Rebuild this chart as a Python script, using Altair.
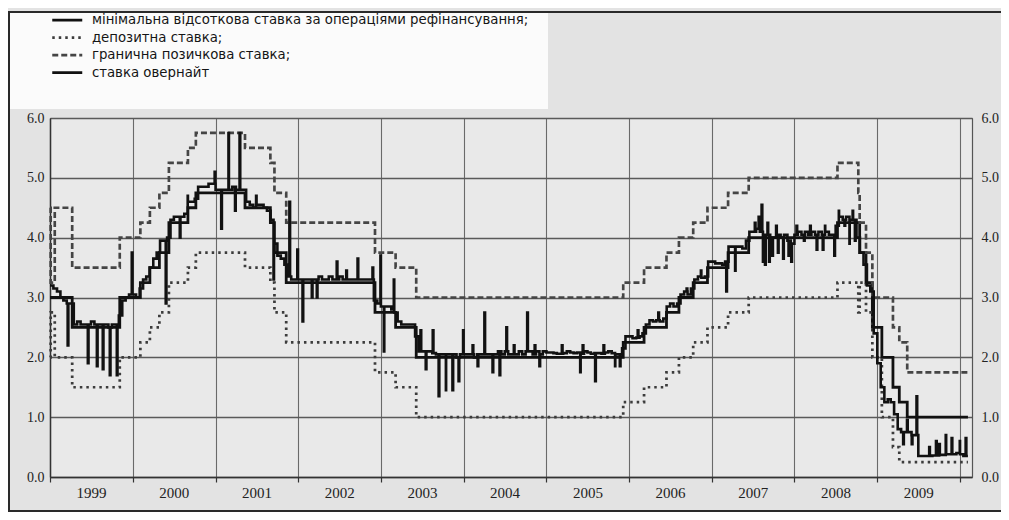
import altair as alt
import pandas as pd

LBL_MRO = "мінімальна відсоткова ставка за операціями рефінансування;"
LBL_DEP = "депозитна ставка;"
LBL_MLF = "гранична позичкова ставка;"
LBL_ON = "ставка овернайт"
SERIES = [LBL_MRO, LBL_DEP, LBL_MLF, LBL_ON]

# Main refinancing rate (step changes)
mro_dates = ["1999-01-01", "1999-04-09", "1999-11-05", "2000-02-04", "2000-03-17", "2000-04-28",
             "2000-06-09", "2000-09-01", "2000-10-06", "2001-05-11", "2001-08-31", "2001-09-18",
             "2001-11-09", "2002-12-06", "2003-03-07", "2003-06-06", "2005-12-06", "2006-03-08",
             "2006-06-15", "2006-08-09", "2006-10-11", "2006-12-13", "2007-03-14", "2007-06-13",
             "2008-07-09", "2008-10-15", "2008-11-12", "2008-12-10", "2009-01-21", "2009-03-11",
             "2009-04-08", "2009-05-13", "2010-02-05"]
mro_values = [3.00, 2.50, 3.00, 3.25, 3.50, 3.75, 4.25, 4.50, 4.75, 4.50, 4.25, 3.75,
              3.25, 2.75, 2.50, 2.00, 2.25, 2.50, 2.75, 3.00, 3.25, 3.50, 3.75, 4.00,
              4.25, 3.75, 3.25, 2.50, 2.00, 1.50, 1.25, 1.00, 1.00]

# Deposit facility rate
dep_dates = ["1999-01-01", "1999-01-04", "1999-01-22", "1999-04-09", "1999-11-05", "2000-02-04",
             "2000-03-17", "2000-04-28", "2000-06-09", "2000-09-01", "2000-10-06", "2001-05-11",
             "2001-08-31", "2001-09-18", "2001-11-09", "2002-12-06", "2003-03-07", "2003-06-06",
             "2005-12-06", "2006-03-08", "2006-06-15", "2006-08-09", "2006-10-11", "2006-12-13",
             "2007-03-14", "2007-06-13", "2008-07-09", "2008-10-09", "2008-10-15", "2008-11-12",
             "2008-12-10", "2009-01-21", "2009-03-11", "2009-04-08", "2010-02-05"]
dep_values = [2.00, 2.75, 2.00, 1.50, 2.00, 2.25, 2.50, 2.75, 3.25, 3.50, 3.75, 3.50,
              3.25, 2.75, 2.25, 1.75, 1.50, 1.00, 1.25, 1.50, 1.75, 2.00, 2.25, 2.50,
              2.75, 3.00, 3.25, 2.75, 3.25, 2.75, 2.00, 1.00, 0.50, 0.25, 0.25]

# Marginal lending facility rate
mlf_dates = ["1999-01-01", "1999-01-04", "1999-01-22", "1999-04-09", "1999-11-05", "2000-02-04",
             "2000-03-17", "2000-04-28", "2000-06-09", "2000-09-01", "2000-10-06", "2001-05-11",
             "2001-08-31", "2001-09-18", "2001-11-09", "2002-12-06", "2003-03-07", "2003-06-06",
             "2005-12-06", "2006-03-08", "2006-06-15", "2006-08-09", "2006-10-11", "2006-12-13",
             "2007-03-14", "2007-06-13", "2008-07-09", "2008-10-09", "2008-10-15", "2008-11-12",
             "2008-12-10", "2009-03-11", "2009-04-08", "2009-05-13", "2010-02-05"]
mlf_values = [4.50, 3.25, 4.50, 3.50, 4.00, 4.25, 4.50, 4.75, 5.25, 5.50, 5.75, 5.50,
              5.25, 4.75, 4.25, 3.75, 3.50, 3.00, 3.25, 3.50, 3.75, 4.00, 4.25, 4.50,
              4.75, 5.00, 5.25, 4.75, 4.25, 3.75, 3.00, 2.50, 2.25, 1.75, 1.75]

# Overnight rate: usual level read on the 1st and 16th of each month ...
on_1999 = [3.20, 3.15, 3.10, 3.00, 2.95, 2.90, 2.90, 2.55, 2.60, 2.55, 2.55, 2.55,
           2.60, 2.55, 2.55, 2.55, 2.55, 2.50, 2.55, 2.55, 2.70, 2.95, 3.00, 3.05]
on_2000 = [3.05, 3.00, 3.15, 3.30, 3.35, 3.50, 3.65, 3.75, 3.95, 3.95, 4.00, 4.30,
           4.35, 4.35, 4.35, 4.40, 4.60, 4.60, 4.65, 4.85, 4.85, 4.85, 4.90, 4.90]
on_2001 = [4.80, 4.80, 4.80, 4.80, 4.80, 4.85, 4.80, 4.80, 4.80, 4.60, 4.55, 4.50,
           4.55, 4.55, 4.50, 4.45, 4.30, 3.90, 3.70, 3.65, 3.55, 3.35, 3.30, 3.30]
on_2002 = [3.30, 3.30, 3.30, 3.30, 3.30, 3.30, 3.35, 3.30, 3.30, 3.35, 3.30, 3.30,
           3.35, 3.30, 3.30, 3.30, 3.30, 3.30, 3.30, 3.30, 3.30, 3.30, 2.95, 2.90]
on_2003 = [2.85, 2.85, 2.85, 2.80, 2.75, 2.60, 2.55, 2.55, 2.55, 2.55, 2.35, 2.10,
           2.10, 2.10, 2.10, 2.07, 2.05, 2.05, 2.05, 2.05, 2.05, 2.05, 2.00, 2.05]
on_2004 = [2.05, 2.05, 2.05, 2.00, 2.05, 2.05, 2.05, 2.05, 2.05, 2.05, 2.10, 2.05,
           2.10, 2.05, 2.05, 2.05, 2.10, 2.05, 2.10, 2.10, 2.05, 2.10, 2.05, 2.10]
on_2005 = [2.08, 2.08, 2.07, 2.06, 2.06, 2.07, 2.10, 2.08, 2.07, 2.08, 2.06, 2.10,
           2.08, 2.06, 2.07, 2.07, 2.06, 2.08, 2.10, 2.07, 2.05, 2.05, 2.15, 2.35]
on_2006 = [2.35, 2.32, 2.33, 2.35, 2.40, 2.55, 2.62, 2.60, 2.62, 2.60, 2.65, 2.85,
           2.90, 2.85, 2.90, 3.05, 3.10, 3.05, 3.15, 3.30, 3.35, 3.33, 3.35, 3.60]
on_2007 = [3.60, 3.57, 3.57, 3.55, 3.60, 3.85, 3.85, 3.85, 3.85, 3.82, 3.95, 4.10,
           4.10, 4.15, 4.10, 4.05, 4.05, 4.00, 4.00, 4.05, 4.00, 4.05, 3.95, 3.90]
on_2008 = [4.05, 4.10, 4.05, 4.10, 4.05, 4.10, 4.05, 4.10, 4.05, 4.10, 4.05, 4.05,
           4.20, 4.35, 4.30, 4.35, 4.30, 4.30, 4.00, 3.75, 3.55, 3.20, 3.10, 2.40]
on_2009 = [1.90, 1.50, 1.25, 1.30, 1.25, 1.05, 0.80, 0.75, 0.75, 0.75, 0.70, 0.70,
           0.35, 0.35, 0.35, 0.35, 0.36, 0.36, 0.37, 0.37, 0.38, 0.38, 0.38, 0.40]
on_2010_dates = ["2010-01-01", "2010-01-16", "2010-02-05"]
on_2010 = [0.38, 0.35, 0.35]

# ... and its one-day spikes (date, level)
spike_dates = ["1999-03-20", "1999-06-17", "1999-07-27", "1999-08-22", "1999-09-22", "1999-10-23",
               "1999-12-28",
               "2000-05-26", "2000-07-27", "2000-08-31", "2000-12-28",
               "2001-01-26", "2001-02-27", "2001-03-28", "2001-04-17", "2001-06-29", "2001-09-14",
               "2001-11-23", "2001-12-28",
               "2002-01-20", "2002-03-02", "2002-03-24", "2002-06-20", "2002-08-01", "2002-09-20",
               "2002-11-25", "2002-12-30",
               "2003-01-14", "2003-02-27", "2003-06-25", "2003-07-18", "2003-08-18", "2003-09-13",
               "2003-10-15", "2003-11-13", "2003-12-10", "2003-12-30",
               "2004-02-10", "2004-03-03", "2004-04-02", "2004-05-08", "2004-06-08", "2004-07-08",
               "2004-08-10", "2004-10-08", "2004-11-10", "2004-12-01",
               "2005-03-10", "2005-05-30", "2005-06-10", "2005-08-04", "2005-09-10", "2005-10-31",
               "2005-11-21",
               "2006-02-08", "2006-05-10", "2006-09-12", "2006-11-14",
               "2007-03-06", "2007-04-14", "2007-07-10", "2007-07-27", "2007-08-09", "2007-08-15",
               "2007-08-24", "2007-09-04", "2007-09-11", "2007-09-25", "2007-10-12", "2007-10-20",
               "2007-11-12", "2007-12-06", "2007-12-18",
               "2008-01-10", "2008-02-12", "2008-03-10", "2008-04-08", "2008-05-05", "2008-05-15",
               "2008-06-25", "2008-07-15", "2008-08-09", "2008-08-31", "2008-09-14", "2008-09-24",
               "2009-04-25", "2009-05-12", "2009-06-02", "2009-06-23", "2009-08-18", "2009-09-17",
               "2009-10-01", "2009-10-30", "2009-11-25", "2009-12-31", "2010-01-26"]
spike_values = [2.20, 1.90, 1.85, 1.80, 1.70, 1.70,
                3.75,
                2.90, 4.00, 4.70, 5.10,
                4.15, 5.75, 4.45, 5.75, 4.70, 3.30,
                4.60, 3.80,
                2.60, 3.00, 3.00, 3.60, 3.45, 3.65,
                3.50, 3.70,
                2.10, 3.30, 2.45, 1.80, 2.45, 1.35,
                1.45, 1.45, 1.60, 2.45,
                2.20, 1.85, 2.75, 1.75, 1.70, 2.50,
                2.20, 2.75, 2.20, 1.85,
                2.20, 1.75, 2.20, 1.60, 2.20, 1.85,
                1.85,
                2.45, 2.75, 3.15, 3.45,
                3.10, 3.45, 4.25, 4.35, 4.55, 3.60,
                3.55, 4.25, 3.60, 3.70, 4.20, 3.75,
                3.65, 3.70, 3.60,
                4.20, 3.95, 4.20, 3.80, 3.80, 4.20,
                3.70, 4.45, 4.20, 3.90, 4.45, 3.95,
                0.55, 0.95, 0.55, 1.35, 0.50, 0.60,
                0.55, 0.70, 0.65, 0.60, 0.65]
SPIKE_DAYS = 3

on_years = [1999, 2000, 2001, 2002, 2003, 2004, 2005, 2006, 2007, 2008, 2009]
on_by_year = [on_1999, on_2000, on_2001, on_2002, on_2003, on_2004, on_2005,
              on_2006, on_2007, on_2008, on_2009]

y_ticks = [0, 1, 2, 3, 4, 5, 6]
year_ticks = list(range(1999, 2011))
x_start, x_end = "1999-01-01", "2010-02-23"


def ms(ts):
    return int(pd.Timestamp(ts).value // 10**6)


# --- assemble the overnight series: usual levels plus the spikes
base_dates, base_values = [], []
for yr, vals in zip(on_years, on_by_year):
    k = 0
    for m in range(1, 13):
        for d in (1, 16):
            base_dates.append(pd.Timestamp(f"{yr}-{m:02d}-{d:02d}"))
            base_values.append(vals[k])
            k += 1
base_dates += [pd.Timestamp(s) for s in on_2010_dates]
base_values += on_2010
base = pd.Series(base_values, index=pd.DatetimeIndex(base_dates)).sort_index()


def level_at(ts):
    return float(base[base.index <= ts].iloc[-1])


on_points = list(zip(base.index, base.values))
for s, v in zip(spike_dates, spike_values):
    t0 = pd.Timestamp(s)
    t1 = t0 + pd.Timedelta(days=SPIKE_DAYS)
    on_points.append((t0, v))
    if t1 <= base.index[-1]:
        on_points.append((t1, level_at(t1)))
on_points.sort(key=lambda p: p[0])

frames = []
for lbl, ds, vs in [(LBL_MRO, mro_dates, mro_values), (LBL_DEP, dep_dates, dep_values),
                    (LBL_MLF, mlf_dates, mlf_values)]:
    frames.append(pd.DataFrame({"t": [ms(s) for s in ds], "value": vs, "series": lbl}))
frames.append(pd.DataFrame({"t": [ms(p[0]) for p in on_points],
                            "value": [float(p[1]) for p in on_points], "series": LBL_ON}))
df = pd.concat(frames, ignore_index=True)

W, H = 922, 359

x_scale = alt.Scale(type="utc", domain=[ms(x_start), ms(x_end)], nice=False)
y_scale = alt.Scale(domain=[0, 6], nice=False, zero=False)

legend = alt.Legend(title=None, orient="none", legendX=10.6, legendY=-104.5,
                    symbolType="M-3,0H3", symbolSize=100, symbolOffset=0,
                    labelFont="DejaVu Sans", labelFontSize=13.3, labelColor="#151515",
                    labelOffset=18, rowPadding=3.5, padding=0, labelLimit=700)

dash_scale = alt.Scale(domain=SERIES, range=[[1, 0], [2.5, 4], [6, 3], [1, 0]])
width_scale = alt.Scale(domain=SERIES, range=[2.8, 2.6, 3.0, 1.0])
color_scale = alt.Scale(domain=SERIES, range=["#111111", "#3c3c3c", "#454545", "#111111"])

x_axis = alt.Axis(values=[ms(f"{y}-01-01") for y in year_ticks],
                  labelExpr="utcyear(datum.value) < 2010 ? utcFormat(datum.value, '%Y') : ''",
                  labelOffset=41, labelFlush=False, labelOverlap=False, labelAlign="center",
                  labelFont="Liberation Serif", labelFontSize=15, labelColor="#222222",
                  labelPadding=3, tickSize=5, tickColor="#333333", tickWidth=1.2,
                  domainColor="#333333", domainWidth=1.5,
                  grid=True, gridColor="#6a6a6a", gridWidth=1.1, title=None)

y_axis_left = alt.Axis(orient="left", values=y_ticks, format=".1f", grid=True,
                       gridColor="#5a5a5a", gridWidth=1.3, ticks=False,
                       labelFont="Liberation Serif", labelFontSize=14, labelColor="#222222",
                       labelPadding=6, domainColor="#333333", domainWidth=1.5, title=None)
y_axis_right = alt.Axis(orient="right", values=y_ticks, format=".1f", grid=False,
                        ticks=False, labelFont="Liberation Serif", labelFontSize=14,
                        labelColor="#222222", labelPadding=9, domainColor="#555555",
                        domainWidth=1.2, title=None)

legend_box = alt.Chart(pd.DataFrame({"k": [0]})).mark_rect(fill="#fbfbfb").encode(
    x=alt.value(-42), x2=alt.value(498), y=alt.value(-106), y2=alt.value(-9))

frame = alt.Chart(pd.DataFrame({"k": [0]})).mark_rect(
    fillOpacity=0, stroke="#2a2a2a", strokeWidth=2).encode(
    x=alt.value(-41), x2=alt.value(990), y=alt.value(-106), y2=alt.value(393))

lines = alt.Chart(df).mark_line(interpolate="step-after", strokeCap="butt").encode(
    x=alt.X("t:T", scale=x_scale, axis=x_axis),
    y=alt.Y("value:Q", scale=y_scale, axis=y_axis_left),
    color=alt.Color("series:O", scale=color_scale, sort=SERIES, legend=legend),
    strokeDash=alt.StrokeDash("series:O", scale=dash_scale, sort=SERIES, legend=legend),
    strokeWidth=alt.StrokeWidth("series:O", scale=width_scale, sort=SERIES, legend=legend),
    detail="series:N",
)

right_axis = alt.Chart(pd.DataFrame({"value": y_ticks})).mark_point(opacity=0).encode(
    x=alt.value(0),
    y=alt.Y("value:Q", scale=y_scale, axis=y_axis_right),
)

chart = alt.layer(legend_box, frame, lines, right_axis).resolve_axis(
    y="independent"
).properties(
    width=W, height=H,
    autosize=alt.AutoSizeParams(type="none"),
    padding={"left": 42, "top": 110, "right": 29, "bottom": 35},
    background="#e3e3e3",
).configure_view(fill="#e9e9e9", stroke="#6a6a6a", strokeWidth=1)

chart.save("out.html", embed_options={"renderer": "svg", "actions": False})
